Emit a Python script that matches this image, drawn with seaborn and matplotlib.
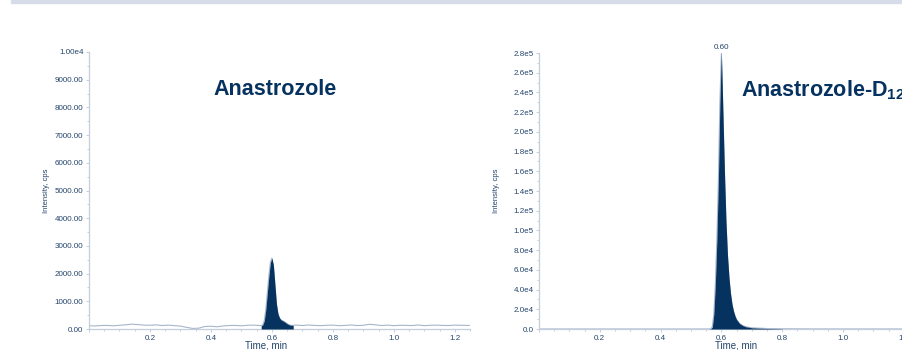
import matplotlib
matplotlib.use("Agg")
import matplotlib.pyplot as plt
import seaborn as sns
import pandas as pd
from matplotlib.ticker import MultipleLocator, FuncFormatter
from matplotlib.patches import Rectangle

# ---- data ----
ana_time = [0.00, 0.02, 0.04, 0.06, 0.08, 0.10, 0.12, 0.14, 0.16, 0.18,
            0.20, 0.22, 0.24, 0.26, 0.28, 0.30, 0.32, 0.34, 0.36, 0.38,
            0.40, 0.42, 0.44, 0.46, 0.48, 0.50, 0.52, 0.54, 0.56,
            0.565, 0.570, 0.575, 0.580, 0.585, 0.590, 0.595, 0.600, 0.605,
            0.610, 0.615, 0.620, 0.625, 0.630, 0.635, 0.640, 0.645, 0.650,
            0.655, 0.660, 0.670,
            0.68, 0.70, 0.72, 0.74, 0.76, 0.78, 0.80, 0.82, 0.84, 0.86,
            0.88, 0.90, 0.92, 0.94, 0.96, 0.98, 1.00, 1.02, 1.04, 1.06,
            1.08, 1.10, 1.12, 1.14, 1.16, 1.18, 1.20, 1.22, 1.24, 1.25]
ana_int = [120, 110, 125, 130, 115, 135, 150, 175, 160, 140,
           135, 150, 125, 140, 120, 105, 60, 20, 30, 90,
           100, 80, 110, 125, 130, 115, 135, 140, 125,
           120, 150, 300, 700, 1300, 1900, 2400, 2560, 2300,
           1600, 900, 550, 400, 330, 300, 270, 230, 190,
           160, 140, 130,
           140, 125, 145, 130, 120, 135, 140, 120, 130, 145,
           125, 135, 170, 150, 125, 140, 120, 135, 130, 125,
           145, 120, 135, 140, 130, 125, 140, 135, 130, 130]

is_time = [0.00, 0.10, 0.20, 0.30, 0.40, 0.50, 0.555, 0.560, 0.565,
           0.570, 0.575, 0.580, 0.585, 0.590, 0.595, 0.600, 0.605, 0.610,
           0.615, 0.620, 0.625, 0.630, 0.635, 0.640, 0.645, 0.650, 0.660,
           0.670, 0.680, 0.700, 0.750, 0.800, 0.900, 1.000, 1.100, 1.250]
is_int = [20, 20, 20, 20, 20, 30, 40, 100, 300,
          2000, 15000, 45000, 90000, 150000, 230000, 280000, 220000, 160000,
          110000, 75000, 52000, 36000, 25000, 18000, 13000, 9500, 5500,
          3500, 2300, 1200, 500, 250, 100, 60, 40, 40]

ana_peak = (0.565, 0.670)
is_peak = (0.560, 0.800)
is_apex_label = "0.60"

NAVY = "#06325f"
TRACE = "#a7b5cb"
SPINE = "#c5cedd"
TXT = "#24456d"

sns.set_theme(style="white")
plt.rcParams["font.family"] = ["Liberation Sans", "DejaVu Sans"]
plt.rcParams["mathtext.fontset"] = "custom"
plt.rcParams["mathtext.rm"] = "Liberation Sans"
plt.rcParams["mathtext.bf"] = "Liberation Sans:bold"

ana = pd.DataFrame({"time": ana_time, "intensity": ana_int})
ist = pd.DataFrame({"time": is_time, "intensity": is_int})

fig = plt.figure(figsize=(9.02, 3.5), dpi=100)
fig.patches.append(Rectangle((11 / 902, 347 / 350), 1, 3 / 350,
                             transform=fig.transFigure, color="#d6dce8",
                             zorder=0))

ax1 = fig.add_axes([89 / 902, 21 / 350, 381 / 902, 277 / 350])
ax2 = fig.add_axes([539 / 902, 21 / 350, 380 / 902, 276 / 350])


def style_axis(ax, ymax, ymajor, fmt):
    ax.set_xlim(0, 1.25)
    ax.set_ylim(0, ymax)
    for s in ["top", "right"]:
        ax.spines[s].set_visible(False)
    for s in ["left", "bottom"]:
        ax.spines[s].set_color(SPINE)
        ax.spines[s].set_linewidth(0.9)
    ax.xaxis.set_major_locator(MultipleLocator(0.2))
    ax.xaxis.set_minor_locator(MultipleLocator(0.05))
    ax.yaxis.set_major_locator(MultipleLocator(ymajor))
    ax.yaxis.set_minor_locator(MultipleLocator(ymajor / 2))
    ax.xaxis.set_major_formatter(FuncFormatter(
        lambda v, p: "" if v < 0.1 else f"{v:.1f}"))
    ax.yaxis.set_major_formatter(FuncFormatter(fmt))
    ax.tick_params(which="both", direction="out", colors=SPINE,
                   labelcolor=TXT, labelsize=5.8, width=0.7,
                   bottom=True, left=True)
    ax.tick_params(which="major", length=2.5, pad=1.5)
    ax.tick_params(which="minor", length=1.5)
    ax.set_xlabel("Time, min", fontsize=7, color=TXT)
    ax.set_ylabel("Intensity, cps", fontsize=5.5, color=TXT)


def fmt_left(v, p):
    if v >= 1e4:
        return "1.00e4"
    return f"{v:.2f}"


def fmt_right(v, p):
    if v == 0:
        return "0.0"
    return f"{v:.1e}".replace("e+0", "e").replace("e+", "e")


# Anastrozole
sns.lineplot(data=ana, x="time", y="intensity", ax=ax1, color=TRACE,
             linewidth=0.8)
pk = ana[(ana.time >= ana_peak[0]) & (ana.time <= ana_peak[1])]
ax1.fill_between(pk.time, 0, pk.intensity, color=NAVY, linewidth=0,
                 zorder=3)
style_axis(ax1, 1e4, 1000, fmt_left)
ax1.xaxis.set_label_coords((266 - 89) / 381, -0.04)
ax1.yaxis.set_label_coords(-0.102, 0.5)
ax1.text(0.488, 0.863, "Anastrozole", transform=ax1.transAxes,
         ha="center", va="center", fontsize=15.5, fontweight="bold",
         color=NAVY)

# Anastrozole-D12 (title runs off the right edge, as in the source)
sns.lineplot(data=ist, x="time", y="intensity", ax=ax2, color=TRACE,
             linewidth=0.8)
pk2 = ist[(ist.time >= is_peak[0]) & (ist.time <= is_peak[1])]
ax2.fill_between(pk2.time, 0, pk2.intensity, color=NAVY, linewidth=0,
                 zorder=3)
style_axis(ax2, 2.8e5, 2e4, fmt_right)
ax2.xaxis.set_label_coords((736 - 539) / 380, -0.04)
ax2.yaxis.set_label_coords(-0.103, 0.5)
apex = ist.loc[ist.intensity.idxmax()]
ax2.annotate(is_apex_label, (apex.time, apex.intensity),
             xytext=(0, 1.5), textcoords="offset points", ha="center",
             va="bottom", fontsize=5.8, color=TXT, annotation_clip=False)
fig.text(741 / 902, (350 - 90) / 350, r"Anastrozole-D$_{\mathbf{12}}$",
         ha="left", va="center", fontsize=15.5, fontweight="bold",
         color=NAVY)

fig.savefig("out.png", dpi=100)
